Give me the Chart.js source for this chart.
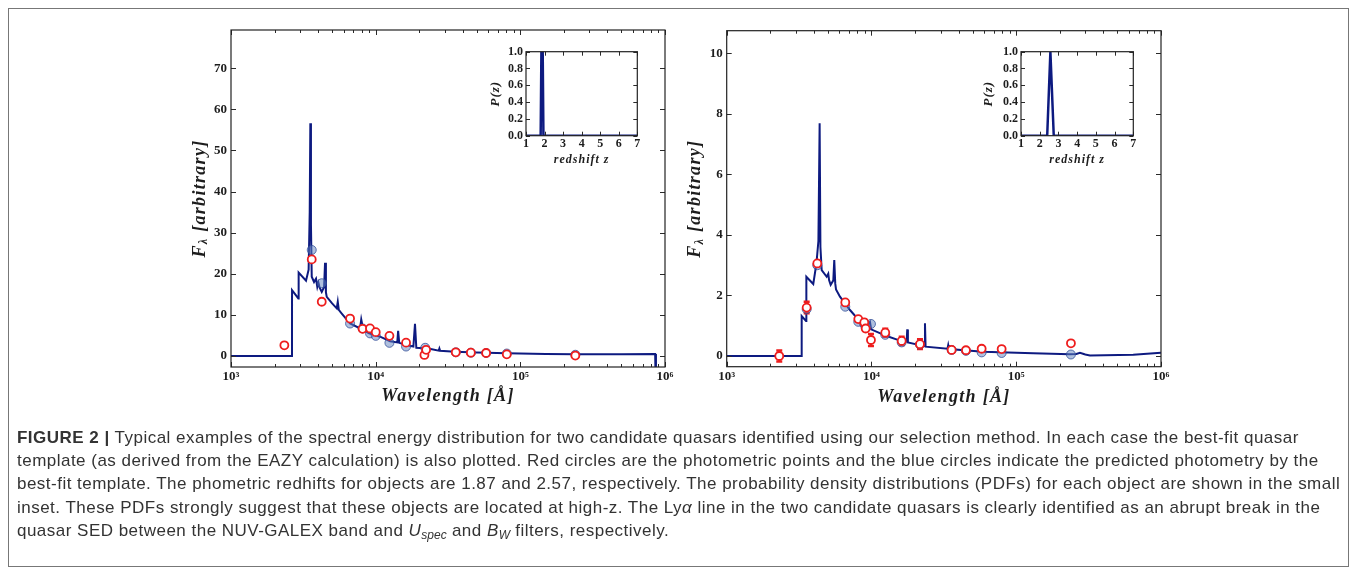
<!DOCTYPE html>
<html><head><meta charset="utf-8">
<script src="https://cdn.jsdelivr.net/npm/chart.js@4.4.0/dist/chart.umd.min.js"></script>
<style>
html,body{margin:0;padding:0;background:#fff;width:1357px;height:575px;overflow:hidden;}
#frame{position:absolute;left:8px;top:8px;width:1341px;height:559px;border:1px solid #777;box-sizing:border-box;}
canvas{position:absolute;}
#caption{position:absolute;left:17px;top:426px;font-family:"Liberation Sans",Arial,sans-serif;font-size:17px;letter-spacing:0.48px;line-height:23.2px;color:#333;white-space:nowrap;}
#caption sub{font-size:12px;line-height:0;vertical-align:-3px;letter-spacing:0;}
</style></head><body>
<div id="frame"></div>
<canvas id="c1" width="530" height="420" style="left:150px;top:10px"></canvas>
<canvas id="c2" width="530" height="420" style="left:650px;top:10px"></canvas>
<canvas id="c3" width="170" height="135" style="left:480px;top:40px"></canvas>
<canvas id="c4" width="170" height="135" style="left:975px;top:40px"></canvas>
<div id="caption"><b>FIGURE 2 |</b> Typical examples of the spectral energy distribution for two candidate quasars identified using our selection method. In each case the best-fit quasar<br>template (as derived from the EAZY calculation) is also plotted. Red circles are the photometric points and the blue circles indicate the predicted photometry by the<br>best-fit template. The phometric redhifts for objects are 1.87 and 2.57, respectively. The probability density distributions (PDFs) for each object are shown in the small<br>inset. These PDFs strongly suggest that these objects are located at high-z. The Ly<i>α</i> line in the two candidate quasars is clearly identified as an abrupt break in the<br>quasar SED between the NUV-GALEX band and <i>U<sub>spec</sub></i> and <i>B<sub>W</sub></i> filters, respectively.</div>
<script>
// ---------------- DATA ----------------
// Left object (z = 1.87): best-fit template
const L_SPEC_WAVE = [1000,2640,2642,2920,2935,3300,3440,3500,3535,3570,3615,3750,3870,3950,4020,4100,4239,4400,4468,4530,4590,5000,5382,5470,5560,5830,6653,7801,7950,8220,9000,10725,12579,14100,14300,14550,16500,18226,18700,19100,21700,24000,27300,27580,27900,35400,50000,80640,150000,239000,500000,855000,866000];
const L_SPEC_FLUX = [0,0,16.0,14.0,20.3,18.3,21.0,35,56.6,32,19.3,18.0,18.8,16.8,17.8,16.6,15.6,16.8,22.7,15.5,14.4,12.8,11.6,13.2,11.2,10.3,7.9,6.7,8.9,6.3,5.5,4.7,3.6,3.3,6.1,3.2,2.6,2.3,7.8,2.0,1.9,1.7,1.3,1.8,1.25,1.05,0.85,0.65,0.5,0.4,0.45,0.5,-10];
// Left observed photometry (red) and predicted photometry (blue)
const L_OBS_WAVE = [2338,3615,4239,6653,8120,9140,10015,12450,16220,21730,22320,35800,45500,58000,80600,240000];
const L_OBS_FLUX = [2.6,23.5,13.2,9.1,6.6,6.7,5.8,4.9,3.25,0.25,1.5,0.9,0.8,0.73,0.4,0.1];
const L_PRED_WAVE = [3615,4239,6653,8120,9140,10015,12450,16220,22000,35800,45500,58000,80600,240000];
const L_PRED_FLUX = [25.8,17.7,7.9,6.7,5.5,4.9,3.2,2.3,2.0,0.9,0.8,0.73,0.6,0.3];
// Right object (z = 2.57): best-fit template
const R_SPEC_WAVE = [1000,3294,3296,3531,3550,3963,4168,4300,4385,4440,4530,4905,5030,5100,5225,5450,5534,5620,5690,6060,7103,8110,9265,9763,9950,12735,15740,17500,17670,17850,21630,23200,23420,23650,33500,33900,34300,59200,130900,235000,260000,275600,300000,323000,643000,1000000];
const R_SPEC_FLUX = [0,0,1.32,1.16,2.62,2.38,3.06,3.8,7.69,3.6,2.84,2.62,2.72,2.5,2.35,2.5,3.17,2.4,2.2,1.96,1.52,1.21,0.99,1.13,0.88,0.66,0.51,0.48,0.88,0.45,0.36,0.33,1.08,0.31,0.24,0.36,0.23,0.14,0.09,0.06,0.07,0.11,0.05,0.02,0.04,0.11];
const R_OBS_WAVE = [2307,3568,4224,6593,8110,8918,9120,9920,12455,16170,21630,35800,44950,57700,79300,238700];
const R_OBS_FLUX = [0.0,1.6,3.06,1.77,1.22,1.11,0.91,0.53,0.77,0.5,0.39,0.2,0.19,0.24,0.23,0.42];
const R_OBS_ERR  = [0.18,0.19,0.06,0.05,0.08,0.1,0.08,0.2,0.13,0.14,0.16,0.03,0.03,0.03,0.03,0.0];
const R_PRED_WAVE = [3568,4224,6593,8110,8918,9120,9920,12455,16170,21630,35800,44950,57700,79300,238700];
const R_PRED_FLUX = [1.55,3.0,1.63,1.13,1.05,0.95,1.06,0.7,0.45,0.38,0.2,0.17,0.12,0.1,0.05];
// Redshift probability distributions (insets)
const L_PZ_Z = [1,1.79,1.83,1.90,1.94,7];
const L_PZ_P = [0,0,1.0,1.0,0,0];
const R_PZ_Z = [1,2.40,2.57,2.75,7];
const R_PZ_P = [0,0,1.0,0,0];
// Tick values and labels
const X_MAJOR = [1e3,1e4,1e5,1e6];
const X_MINOR = [2e3,3e3,4e3,5e3,6e3,7e3,8e3,9e3,2e4,3e4,4e4,5e4,6e4,7e4,8e4,9e4,2e5,3e5,4e5,5e5,6e5,7e5,8e5,9e5];
const X_LABELS = {3:'10³',4:'10⁴',5:'10⁵',6:'10⁶'};
const L_Y_TICKS = [0,10,20,30,40,50,60,70];
const R_Y_TICKS = [0,2,4,6,8,10];
const PZ_X_TICKS = [1,2,3,4,5,6,7];
const PZ_Y_TICKS = [0,0.2,0.4,0.6,0.8,1.0];
const X_TITLE = 'Wavelength [Å]';
const Y_TITLE_MAIN = 'F';
const Y_TITLE_SUB = 'λ';
const Y_TITLE_REST = ' [arbitrary]';
const PZ_X_TITLE = 'redshift z';
const PZ_Y_TITLE = 'P(z)';

// ---------------- STYLE / HELPERS ----------------
const NAVY = '#0d1a80';
const RED = '#ee1d1d';
const TICK_FONT = {family:'"Liberation Serif", "Times New Roman", serif', weight:'bold', size:13};
const TICK_FONT_S = {family:'"Liberation Serif", "Times New Roman", serif', weight:'bold', size:12};
const TXT = '#1d1d1d';
const NOGRID = {display: false, drawTicks: false, tickLength: 0};
const pts = (xs, ys) => xs.map((x, i) => ({x, y: ys[i]}));

const framePlugin = {
  id: 'frameTicks',
  afterDatasetDraw(chart, args, o) {
    if (!o.err || args.index !== 2) return;
    const {ctx, scales:{x, y}} = chart;
    ctx.save();
    ctx.strokeStyle = RED; ctx.lineWidth = 2.5;
    ctx.beginPath();
    o.err.wave.forEach((w, i) => {
      const e = o.err.err[i]; if (!e) return;
      const px = x.getPixelForValue(w);
      const y1 = y.getPixelForValue(o.err.flux[i] - e), y2 = y.getPixelForValue(o.err.flux[i] + e);
      ctx.moveTo(px, y1); ctx.lineTo(px, y2);
      ctx.moveTo(px - 3, y1); ctx.lineTo(px + 3, y1);
      ctx.moveTo(px - 3, y2); ctx.lineTo(px + 3, y2);
    });
    ctx.stroke();
    ctx.restore();
  },
  afterDraw(chart, args, o) {
    const {ctx, chartArea:a, scales:{x, y}} = chart;
    ctx.save();
    ctx.strokeStyle = '#2a2a2a'; ctx.lineWidth = 1;
    ctx.beginPath();
    const L = (x1, y1, x2, y2) => { ctx.moveTo(x1, y1); ctx.lineTo(x2, y2); };
    const xt = (v, len) => { const p = Math.round(x.getPixelForValue(v)) + 0.5; L(p, a.bottom, p, a.bottom - len); L(p, a.top, p, a.top + len); };
    const yt = (v, len) => { const p = Math.round(y.getPixelForValue(v)) + 0.5; L(a.left, p, a.left + len, p); L(a.right, p, a.right - len, p); };
    o.xMajor.forEach(v => xt(v, o.major));
    (o.xMinor || []).forEach(v => xt(v, o.minor));
    o.yMajor.forEach(v => yt(v, o.major));
    ctx.stroke();
    ctx.lineWidth = o.spineW; ctx.strokeStyle = '#222';
    ctx.strokeRect(a.left, a.top, a.right - a.left, a.bottom - a.top);
    // axis titles
    ctx.fillStyle = TXT;
    ctx.textBaseline = 'middle';
    ctx.textAlign = 'left';
    if ('letterSpacing' in ctx) ctx.letterSpacing = o.ls + 'px';
    const cx = (a.left + a.right) / 2, cy = (a.top + a.bottom) / 2;
    ctx.font = 'italic bold ' + o.tsize + 'px "Liberation Serif", serif';
    const wt = ctx.measureText(o.xTitle).width;
    ctx.fillText(o.xTitle, cx - wt / 2, a.bottom + o.xdy);
    ctx.save();
    ctx.translate(a.left - o.ydx, cy);
    ctx.rotate(-Math.PI / 2);
    const parts = o.yParts;
    let widths = parts.map(p => { ctx.font = 'italic bold ' + p.size + 'px "Liberation Serif", serif'; return ctx.measureText(p.t).width; });
    let tot = widths.reduce((s, w) => s + w, 0);
    let px = -tot / 2;
    parts.forEach((p, i) => {
      ctx.font = 'italic bold ' + p.size + 'px "Liberation Serif", serif';
      ctx.fillText(p.t, px, p.dy || 0);
      px += widths[i];
    });
    ctx.restore();
    ctx.restore();
  }
};

function mainChart(id, spec, obs, pred, yMin, yMax, yTicks, box, err) {
  return new Chart(document.getElementById(id), {
    type: 'scatter',
    data: {datasets: [
      {data: pts(obs[0], obs[1]), order: 0, pointRadius: 4, pointBorderWidth: 1.8, borderColor: RED, backgroundColor: '#fff', pointBackgroundColor: '#fff', pointBorderColor: RED},
      {data: pts(pred[0], pred[1]), order: 1, pointRadius: 4.5, pointBorderWidth: 1, pointBorderColor: 'rgba(45,75,150,0.75)', pointBackgroundColor: 'rgba(95,130,190,0.5)'},
      {data: pts(spec[0], spec[1]), order: 2, showLine: true, pointRadius: 0, borderColor: NAVY, borderWidth: 2, tension: 0, fill: false}
    ]},
    options: {
      responsive: false, animation: false, events: [],
      layout: {padding: {left: 0, top: box.pt, right: box.pr, bottom: 0}},
      plugins: {legend: {display: false}, tooltip: {enabled: false},
        frameTicks: {xMajor: X_MAJOR, xMinor: X_MINOR, yMajor: yTicks, major: 5, minor: 3, spineW: 1.2, err: err,
          xTitle: X_TITLE, xdy: box.xdy, ydx: 31, tsize: 18, ls: 1.3,
          yParts: [{t: Y_TITLE_MAIN, size: 18}, {t: Y_TITLE_SUB, size: 12, dy: 4}, {t: Y_TITLE_REST, size: 18}]}},
      scales: {
        x: {type: 'logarithmic', min: 1000, max: 1e6,
          afterBuildTicks: s => { s.ticks = X_MAJOR.map(v => ({value: v})); },
          afterFit: s => { s.height = box.xH; },
          ticks: {autoSkip: false, maxRotation: 0, padding: 2, font: TICK_FONT, color: TXT,
            callback: v => X_LABELS[Math.round(Math.log10(v))] || ''},
          grid: NOGRID, border: {display: false}},
        y: {type: 'linear', min: yMin, max: yMax,
          afterBuildTicks: s => { s.ticks = yTicks.map(v => ({value: v})); },
          afterFit: s => { s.width = box.yW; },
          ticks: {autoSkip: false, padding: 4, font: TICK_FONT, color: TXT, callback: v => String(v)},
          grid: NOGRID, border: {display: false}}
      }
    },
    plugins: [framePlugin]
  });
}

function pzChart(id, z, p, box) {
  return new Chart(document.getElementById(id), {
    type: 'scatter',
    data: {datasets: [{data: pts(z, p), showLine: true, pointRadius: 0, borderColor: NAVY, borderWidth: 2.5, tension: 0}]},
    options: {
      responsive: false, animation: false, events: [],
      layout: {padding: {left: 0, top: box.pt, right: box.pr, bottom: 0}},
      plugins: {legend: {display: false}, tooltip: {enabled: false},
        frameTicks: {xMajor: PZ_X_TICKS, yMajor: PZ_Y_TICKS, major: 4, minor: 2, spineW: 1.2,
          xTitle: PZ_X_TITLE, xdy: 24.5, ydx: box.ydx, tsize: 12, ls: 1,
          yParts: [{t: PZ_Y_TITLE, size: 13}]}},
      scales: {
        x: {type: 'linear', min: 1, max: 7,
          afterBuildTicks: s => { s.ticks = PZ_X_TICKS.map(v => ({value: v})); },
          afterFit: s => { s.height = box.xH; },
          ticks: {autoSkip: false, maxRotation: 0, padding: 1, font: TICK_FONT_S, color: TXT, callback: v => String(v)},
          grid: NOGRID, border: {display: false}},
        y: {type: 'linear', min: 0, max: 1,
          afterBuildTicks: s => { s.ticks = PZ_Y_TICKS.map(v => ({value: v})); },
          afterFit: s => { s.width = box.yW; },
          ticks: {autoSkip: false, padding: 3, font: TICK_FONT_S, color: TXT, callback: v => v.toFixed(1)},
          grid: NOGRID, border: {display: false}}
      }
    },
    plugins: [framePlugin]
  });
}

mainChart('c1', [L_SPEC_WAVE, L_SPEC_FLUX], [L_OBS_WAVE, L_OBS_FLUX], [L_PRED_WAVE, L_PRED_FLUX],
  -2.68, 79.32, L_Y_TICKS, {yW: 81, pt: 20, pr: 15, xH: 63, xdy: 29.7}, null);
mainChart('c2', [R_SPEC_WAVE, R_SPEC_FLUX], [R_OBS_WAVE, R_OBS_FLUX], [R_PRED_WAVE, R_PRED_FLUX],
  -0.353, 10.75, R_Y_TICKS, {yW: 76.7, pt: 20.7, pr: 19, xH: 63.3, xdy: 30.3},
  {wave: R_OBS_WAVE, flux: R_OBS_FLUX, err: R_OBS_ERR});
pzChart('c3', L_PZ_Z, L_PZ_P, {yW: 46, pt: 11.7, pr: 12.7, xH: 39.3, ydx: 30});
pzChart('c4', R_PZ_Z, R_PZ_P, {yW: 46, pt: 11.7, pr: 11.7, xH: 39.3, ydx: 32});
</script>
</body></html>
